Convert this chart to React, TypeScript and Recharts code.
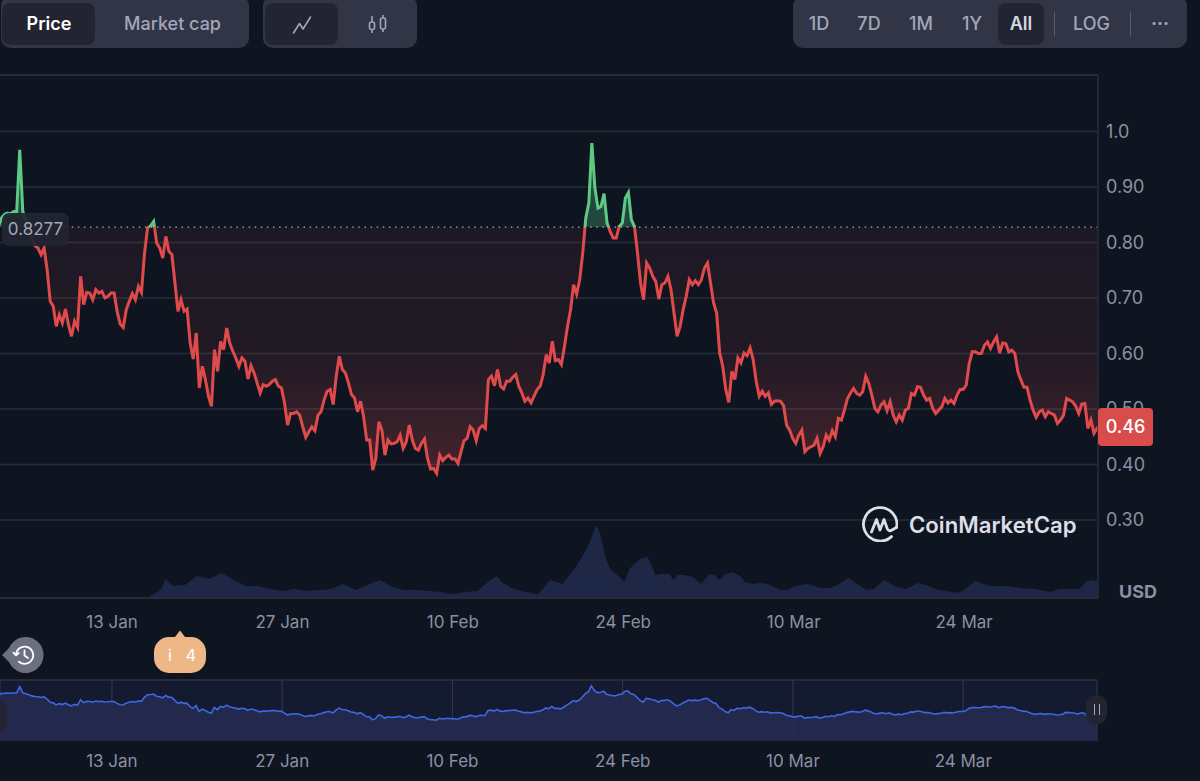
import React from "react";
import { ComposedChart, Area, XAxis, YAxis, CartesianGrid, ReferenceLine } from "recharts";

// Price samples, one every quarter of a day
const pricesJan = [
  .829,.844,.851,.853,.852,.856,.856,.967,.856,.841,.823,.805,.794,.790,.778,.790,.751,.694,.685,.649,
  .670,.655,.680,.652,.631,.658,.647,.739,.688,.710,.709,.697,.715,.709,.712,.700,.703,.709,.709,.676,
  .653,.647,.679,.694,.708,.697,.721,.710,.781,.826,.830,.838,.799,.790,.772,.811,.784,.778,.727,.676,
  .697,.676,.680,.619,.590,.637,.538,.577,.553,.523,.505,.607,.568,.622,.607,.646,.619,.604,.592,.577,
  .592,.586,.554,.578,.565,.547,.529,.544,.541,.544,.550,.553,.541,.538,.511,.471,.492,.492,.495,.489,
  .468,.449,.459,.468,.461,.489,.495,.516,.532,.535,.508,.559,.595,.571,.565,.547,.526,.520,.495,.514,
  .486,.444,.444,.390,.411,.477,.462,.417,.444,.437,.438,.441,.453,
];
const pricesFeb = [
  .429,.441,.471,.444,.429,.426,.438,.446,.411,.392,.393,.384,.417,.407,.413,.417,.410,.410,.402,.423,
  .443,.447,.468,.462,.443,.465,.470,.465,.553,.559,.542,.571,.541,.536,.550,.550,.557,.562,.541,.529,
  .514,.520,.511,.523,.535,.541,.562,.598,.583,.622,.587,.589,.580,.613,.649,.679,.724,.707,.733,.781,
  .844,.871,.979,.898,.862,.865,.888,.835,.820,.808,.808,.829,.835,.880,.890,.841,.829,.781,.727,.697,
  .763,.754,.739,.730,.698,.724,.727,.739,.715,.673,.631,.649,.679,.703,.733,.724,.731,.724,.733,.754,
  .763,.727,.691,.673,.601,.577,.535,.512,.568,.553,.592,.583,.601,.596,.610,.589,.550,.523,.532,.523,
  .529,.508,.514,.515,.514,.506,.471,.462,.447,.438,.453,
];
const pricesMar = [
  .462,.423,.429,.432,.435,.447,.420,.432,.453,.444,.461,.450,.483,.480,.498,.519,.529,.537,.528,.525,
  .531,.559,.546,.525,.501,.495,.507,.513,.497,.513,.489,.477,.489,.480,.498,.501,.528,.525,.540,.539,
  .525,.516,.519,.501,.492,.498,.504,.519,.511,.516,.510,.525,.535,.535,.543,.582,.603,.603,.600,.600,
  .615,.621,.609,.621,.630,.601,.619,.618,.603,.606,.600,.567,.552,.539,.539,.516,.498,.485,.495,.498,
  .486,.495,.492,.489,.474,.480,.489,.519,.516,.513,.505,.492,.509,.510,.465,.480,.456,.465,.460,
];
const prices = [...pricesJan, ...pricesFeb, ...pricesMar];
const firstDay = 3.67;
const dayStep = 0.25;
const priceRows = prices.map((price, i) => ({ day: firstDay + i * dayStep, price }));

// Volume (day of year, volume)
const volumeDays = [
  3.8,15,16,17,17.4,18,19,20,21,22,23,24,25,26,27,28,29,30,31,32,33,34,35,36,37,38,39,40,41,42,43,44,44.6,45,46,47,48,
  49,50,51,52,52.8,53.1,53.6,54,54.5,55.1,55.5,55.9,56.5,57,57.4,57.6,58.1,58.8,59.1,59.5,60,60.7,61.4,62.1,62.5,62.9,63.3,
  63.9,64.6,65,65.7,66.2,66.9,67.9,68.5,69.1,70.1,71.2,72,72.6,73.5,74.1,75,75.6,76.4,77.3,78.2,79.2,80.1,80.8,81.5,82.5,
  83,83.9,84.6,85.1,86.5,87.7,88.9,90.1,90.8,92.5,93,93.5,94,
];
const volumes = [
  0,0,1,8,19,12,13,22,19,25,18,12,12,9,7,9,7,8,9,14,8,13,18,11,8,8,7,6,4,6,7,17,22,16,9,6,4,
  18,14,29,49,73,64,38,28,23,16,29,34,40,41,31,23,24,24,18,23,23,21,14,24,23,18,23,
  26,22,16,14,15,14,8,8,12,14,10,10,13,20,15,8,9,18,12,9,15,12,8,7,5,
  8,17,14,12,12,10,9,6,9,9,16,18,17,
];
const volumeRows = volumeDays.map((day, i) => ({ day, volume: volumes[i] }));

const priceTicks = [0.3, 0.4, 0.5, 0.6, 0.7, 0.8, 0.9, 1.0];
const dateTicks = [13, 27, 41, 55, 69, 83];
const dateLabels = ["13 Jan", "27 Jan", "10 Feb", "24 Feb", "10 Mar", "24 Mar"];
const basePrice = 0.8277;
const lastPrice = "0.46";

const priceDomain: [number, number] = [0.1595, 1.1018];
const navDomain: [number, number] = [0.025, 1.08];
const dayDomain: [number, number] = [3.797, 94.0];

const FONT = "Inter, 'Noto Sans', sans-serif";
const BG = "#0e1521";
const GRID = "#282c3a";
const MUTED = "#8b90a2";
const RED = "#e04a4a";
const GREEN = "#5cc985";
const PLOT_TOP = 75;
const PLOT_H = 523;
const baseFrac = (priceDomain[1] - basePrice) / (priceDomain[1] - priceDomain[0]);
const fracOf = (v: number) => (priceDomain[1] - v) / (priceDomain[1] - priceDomain[0]);
const dateFmt = (d: number) => dateLabels[dateTicks.indexOf(d)] ?? "";

const box = (s: React.CSSProperties): React.CSSProperties => ({ position: "absolute", ...s });
const label = (text: string, cx: number, color: string, weight = 500, size = 18) => (
  <div key={text} style={box({ left: cx - 60, width: 120, top: 13, height: 22, lineHeight: "22px", textAlign: "center", color, fontWeight: weight, fontSize: size })}>{text}</div>
);

function Logo() {
  return (
    <svg width={36} height={36} viewBox="0 0 36 36" style={box({ left: 862, top: 506 })} fill="none" stroke="#dcdee8" strokeWidth={2.8} strokeLinecap="round" strokeLinejoin="round">
      <path d="M34.6 21.5 A16.7 16.7 0 1 0 29.5 30.6" />
      <path d="M9.5 26 L14.5 13.5 L18 24 L22 13.5 L25.2 22.5 Q26.8 26 30 24 L34.4 21.5" />
    </svg>
  );
}

export default function App() {
  return (
    <div style={box({ left: 0, top: 0, width: 1200, height: 781, background: BG, overflow: "hidden", fontFamily: FONT })}>
      {/* Volume layer */}
      <div style={box({ left: 0, top: 0 })}>
        <ComposedChart width={1200} height={640} data={volumeRows} margin={{ top: PLOT_TOP, right: 102, bottom: 42, left: 0 }}>
          <XAxis dataKey="day" type="number" domain={dayDomain} allowDataOverflow hide />
          <YAxis domain={[0, PLOT_H]} hide />
          <Area dataKey="volume" type="linear" stroke="none" fill="#1f2747" fillOpacity={1} isAnimationActive={false} dot={false} activeDot={false} />
        </ComposedChart>
      </div>

      {/* Price layer */}
      <div style={box({ left: 0, top: 0 })}>
        <ComposedChart width={1200} height={640} data={priceRows} margin={{ top: PLOT_TOP, right: 0, bottom: 0, left: 0 }}>
          <defs>
            <linearGradient id="lineSplit" gradientUnits="userSpaceOnUse" x1={0} x2={0} y1={PLOT_TOP} y2={PLOT_TOP + PLOT_H}>
              <stop offset={baseFrac} stopColor={GREEN} />
              <stop offset={baseFrac} stopColor={RED} />
            </linearGradient>
            <linearGradient id="fillSplit" gradientUnits="userSpaceOnUse" x1={0} x2={0} y1={PLOT_TOP} y2={PLOT_TOP + PLOT_H}>
              <stop offset={fracOf(1.0)} stopColor={GREEN} stopOpacity={0.28} />
              <stop offset={baseFrac} stopColor={GREEN} stopOpacity={0.28} />
              <stop offset={baseFrac} stopColor={RED} stopOpacity={0.07} />
              <stop offset={fracOf(0.6)} stopColor={RED} stopOpacity={0.09} />
              <stop offset={fracOf(0.38)} stopColor={RED} stopOpacity={0.27} />
            </linearGradient>
          </defs>
          <CartesianGrid horizontal vertical={false} stroke={GRID} strokeWidth={1.5} />
          <XAxis dataKey="day" type="number" domain={dayDomain} allowDataOverflow ticks={dateTicks} tickFormatter={dateFmt}
            height={42} axisLine={false} tickLine={false} tickMargin={12} interval={0}
            tick={{ fill: MUTED, fontSize: 17, fontFamily: FONT }} />
          <YAxis orientation="right" width={102} domain={priceDomain} allowDataOverflow ticks={priceTicks}
            tickFormatter={(v: number) => (v === 1 ? "1.0" : v.toFixed(2))}
            axisLine={{ stroke: GRID, strokeWidth: 1.5 }} tickLine={false}
            tick={{ fill: MUTED, fontSize: 18, fontFamily: FONT }} />
          <ReferenceLine y={priceDomain[1]} stroke={GRID} strokeWidth={2} />
          <ReferenceLine y={priceDomain[0]} stroke={GRID} strokeWidth={2} />
          <ReferenceLine y={basePrice} stroke="#a8adbd" strokeDasharray="1.5 4.6" strokeWidth={1.2} />
          <Area dataKey="price" type="linear" baseValue={basePrice} stroke="url(#lineSplit)" strokeWidth={3}
            fill="url(#fillSplit)" fillOpacity={1} isAnimationActive={false} dot={false} activeDot={false} />
        </ComposedChart>
      </div>

      {/* Navigator */}
      <div style={box({ left: 0, top: 680, width: 1097, height: 61, background: "#141a30" })} />
      <div style={box({ left: 0, top: 679, width: 1097, height: 1.5, background: GRID })} />
      <div style={box({ left: 0, top: 680 })}>
        <ComposedChart width={1200} height={101} data={priceRows} margin={{ top: 0, right: 103, bottom: 0, left: 0 }}>
          <CartesianGrid horizontal={false} vertical stroke="#30354a" strokeWidth={1.2} />
          <XAxis dataKey="day" type="number" domain={dayDomain} allowDataOverflow ticks={dateTicks} tickFormatter={dateFmt}
            height={40} axisLine={false} tickLine={false} tickMargin={8} interval={0}
            tick={{ fill: MUTED, fontSize: 17, fontFamily: FONT }} />
          <YAxis domain={navDomain} allowDataOverflow hide />
          <Area dataKey="price" type="linear" baseValue={navDomain[0]} stroke="#3f67e0" strokeWidth={1.6}
            fill="#232b50" fillOpacity={0.9} isAnimationActive={false} dot={false} activeDot={false} />
        </ComposedChart>
      </div>
      <div style={box({ left: -14, top: 700, width: 21, height: 33, borderRadius: 8, background: "#222531" })} />
      <div style={box({ left: 1086, top: 695, width: 21, height: 29, borderRadius: 9, background: "#222531" })} />
      <div style={box({ left: 1093.5, top: 704, width: 1.6, height: 11, background: "#a1a7bb" })} />
      <div style={box({ left: 1098.5, top: 704, width: 1.6, height: 11, background: "#a1a7bb" })} />

      {/* Price labels */}
      <div style={box({ left: 2, top: 213, width: 67, height: 33, borderRadius: 7, background: "rgba(34,37,49,0.94)", color: "#a1a7bb", fontSize: 17, lineHeight: "33px", textAlign: "center" })}>0.8277</div>
      <div style={box({ left: 1098, top: 408, width: 55, height: 38, borderRadius: 4, background: "#d94c4c", color: "#fff", fontSize: 18, lineHeight: "38px", textAlign: "center", fontWeight: 500 })}>{lastPrice}</div>
      <div style={box({ left: 1119, top: 582, color: MUTED, fontSize: 18, lineHeight: "20px", fontWeight: 700 })}>USD</div>

      <Logo />
      <div style={box({ left: 909, top: 510, color: "#dcdee8", fontSize: 22.2, lineHeight: "30px", fontWeight: 600, whiteSpace: "nowrap" })}>CoinMarketCap</div>

      {/* Toolbar groups */}
      <div style={box({ left: 1, top: -4, width: 248, height: 52, borderRadius: 10, background: "#323546" })} />
      <div style={box({ left: 2, top: 3, width: 93, height: 42, borderRadius: 8, background: "#222531" })} />
      {label("Price", 49, "#ffffff", 600)}
      {label("Market cap", 172.5, "#a1a7bb", 500)}

      <div style={box({ left: 263, top: -4, width: 154, height: 52, borderRadius: 10, background: "#323546" })} />
      <div style={box({ left: 265, top: 3, width: 73, height: 42, borderRadius: 8, background: "#222531" })} />
      <svg width={20} height={20} viewBox="0 0 20 20" style={box({ left: 292, top: 15 })} fill="none" stroke="#a1a7bb" strokeWidth={1.6} strokeLinecap="round" strokeLinejoin="round">
        <path d="M1.5 18 L7.5 8.5 L11 14 L18.5 2" />
      </svg>
      <svg width={22} height={20} viewBox="0 0 22 20" style={box({ left: 367, top: 14 })} fill="none" stroke="#a1a7bb" strokeWidth={1.6}>
        <rect x={2.5} y={8} width={5} height={7.5} rx={2} />
        <rect x={13.5} y={4} width={5} height={11} rx={2} />
        <path d="M5 2 V8 M5 15.5 V19 M16 1 V4 M16 15 V18" />
      </svg>

      <div style={box({ left: 793, top: -4, width: 394, height: 52, borderRadius: 10, background: "#323546" })} />
      <div style={box({ left: 998, top: 3, width: 46, height: 42, borderRadius: 8, background: "#222531" })} />
      {label("1D", 819, "#a1a7bb")}
      {label("7D", 869, "#a1a7bb")}
      {label("1M", 921, "#a1a7bb")}
      {label("1Y", 972, "#a1a7bb")}
      {label("All", 1021, "#d5d8e2", 600)}
      {label("LOG", 1091.5, "#a1a7bb")}
      {label("···", 1160, "#a1a7bb", 700, 18)}
      <div style={box({ left: 1053.5, top: 12, width: 1.2, height: 24, background: "#585c6e" })} />
      <div style={box({ left: 1129.5, top: 12, width: 1.2, height: 24, background: "#585c6e" })} />

      {/* Pins */}
      <svg width={46} height={40} viewBox="0 0 46 40" style={box({ left: 0, top: 635 })}>
        <path d="M2 20 L9 13 A18 18 0 1 1 9 27 Z" fill="#6b6f80" />
        <g fill="none" stroke="#fff" strokeWidth={1.8} strokeLinecap="round" strokeLinejoin="round">
          <path d="M16 20 A8.6 8.6 0 1 1 18.8 26.6" />
          <path d="M13.4 17.6 L16 20.4 L18.8 18" />
          <path d="M24.5 15.5 V20.5 L28 23" />
        </g>
      </svg>
      <svg width={54} height={44} viewBox="0 0 54 44" style={box({ left: 153, top: 630 })}>
        <path d="M27 0.5 L32 7 H38 A15 15 0 0 1 53 22 V28 A15 15 0 0 1 38 43 H16 A15 15 0 0 1 1 28 V22 A15 15 0 0 1 16 7 H22 Z" fill="#eeb886" />
        <text x={17} y={31} fill="#fff" fontSize={16} textAnchor="middle" fontFamily={FONT}>i</text>
        <text x={38} y={31} fill="#fff" fontSize={16} textAnchor="middle" fontFamily={FONT}>4</text>
      </svg>
    </div>
  );
}
